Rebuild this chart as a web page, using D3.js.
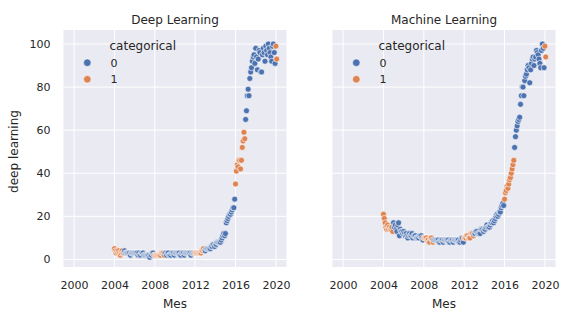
<!DOCTYPE html>
<html>
<head>
<meta charset="utf-8">
<script src="https://cdn.jsdelivr.net/npm/d3@7"></script>
<style>
  body { margin: 0; background: #fff; }
  text { font-family: "DejaVu Sans", sans-serif; fill: #262626; }
</style>
</head>
<body>
<svg id="chart" width="578" height="325"></svg>
<script>
// monthly google trends values, starting January 2004
const startYear = 2004;
// years whose months are flagged categorical = 1
const categoryYears = [2004, 2008, 2012, 2016, 2020];
const categories = ["0", "1"];
const xTicks = [2000, 2004, 2008, 2012, 2016, 2020];
const yTicks = [0, 20, 40, 60, 80, 100];

const deepLearning = [
    5, 4, 3, 4, 3, 4, 3, 2, 3, 4, 3, 3,
    4, 3, 3, 3, 3, 3, 3, 2, 3, 3, 3, 3,
    3, 3, 3, 3, 2, 3, 2, 2, 3, 3, 3, 2,
    2, 2, 2, 2, 2, 2, 1, 2, 2, 3, 3, 2,
    2, 2, 2, 2, 2, 2, 2, 2, 3, 3, 3, 2,
    3, 3, 2, 3, 3, 2, 2, 2, 3, 3, 3, 2,
    3, 3, 3, 3, 3, 3, 2, 2, 3, 3, 3, 2,
    3, 3, 3, 3, 3, 3, 3, 2, 3, 3, 3, 3,
    3, 3, 3, 3, 3, 3, 3, 3, 4, 4, 5, 4,
    4, 5, 5, 5, 5, 5, 5, 6, 6, 7, 7, 6,
    7, 7, 8, 8, 8, 8, 8, 9, 10, 11, 12, 11,
    12, 17, 18, 19, 20, 21, 21, 22, 23, 24, 24, 28,
    35, 41, 44, 43, 46, 46, 42, 46, 52, 55, 59, 56,
    65, 69, 76, 79, 76, 84, 87, 89, 92, 94, 95, 91,
    98, 94, 88, 93, 97, 96, 87, 87, 95, 98, 96, 92,
    99, 97, 95, 100, 98, 96, 94, 92, 99, 100, 96, 91,
    99, 93
];

const machineLearning = [
    21, 19, 17, 15, 14, 16, 14, 15, 14, 14, 15, 13,
    17, 15, 16, 14, 13, 16, 17, 11, 14, 13, 13, 12,
    13, 12, 11, 12, 11, 10, 11, 12, 11, 11, 12, 10,
    11, 11, 11, 10, 10, 10, 10, 11, 11, 11, 10, 9,
    10, 10, 10, 10, 9, 9, 8, 8, 10, 10, 9, 8,
    9, 9, 9, 9, 9, 9, 8, 8, 9, 9, 9, 8,
    9, 9, 9, 9, 9, 9, 8, 8, 9, 9, 9, 8,
    9, 9, 9, 9, 9, 9, 8, 8, 9, 10, 10, 8,
    10, 10, 10, 11, 11, 10, 10, 10, 12, 12, 12, 11,
    12, 12, 13, 13, 12, 12, 12, 12, 14, 14, 14, 13,
    14, 14, 15, 16, 15, 15, 15, 16, 17, 17, 18, 17,
    18, 19, 20, 21, 20, 21, 22, 22, 24, 25, 26, 25,
    28, 31, 32, 34, 33, 35, 37, 38, 40, 42, 44, 46,
    52, 57, 60, 62, 64, 65, 66, 72, 76, 80, 80, 76,
    83, 85, 86, 88, 90, 89, 82, 88, 91, 93, 94, 90,
    93, 94, 97, 96, 95, 93, 91, 89, 97, 100, 98, 89,
    99, 94
];

const svg = d3.select('#chart');

const plotTop = 30;
const height = 237;
const width = 223;

const colour = d3.scaleOrdinal()
    .domain(categories)
    .range(["#4C72B0", "#DD8452"]);

const yScale = d3.scaleLinear()
    .domain([-3.5, 106.5])
    .range([plotTop + height, plotTop]);

function toRows(values) {
    return values.map((v, i) => {
        const year = startYear + Math.floor(i / 12);
        return {
            t: startYear + i / 12,
            value: v,
            cat: categoryYears.includes(year) ? "1" : "0"
        };
    });
}

function drawPanel(left, title, values, showY) {
    const xScale = d3.scaleLinear()
        .domain([1998.95, 2021.05])
        .range([left, left + width]);

    const g = svg.append('g');

    g.append('rect')
        .attr('x', left)
        .attr('y', plotTop)
        .attr('width', width)
        .attr('height', height)
        .attr('fill', '#EAEAF2');

    // grid lines
    g.selectAll('.hgrid')
        .data(yTicks)
        .enter()
        .append('line')
        .attr('x1', left)
        .attr('x2', left + width)
        .attr('y1', d => yScale(d))
        .attr('y2', d => yScale(d))
        .attr('stroke', '#fff')
        .attr('stroke-width', 1);

    g.selectAll('.vgrid')
        .data(xTicks)
        .enter()
        .append('line')
        .attr('x1', d => xScale(d))
        .attr('x2', d => xScale(d))
        .attr('y1', plotTop)
        .attr('y2', plotTop + height)
        .attr('stroke', '#fff')
        .attr('stroke-width', 1);

    // x axis
    const xAxis = g.append('g')
        .attr('transform', `translate(0, ${plotTop + height})`)
        .call(d3.axisBottom(xScale).tickValues(xTicks).tickFormat(d3.format('d')).tickSize(0).tickPadding(14));
    xAxis.select('.domain').remove();
    xAxis.selectAll('text')
        .attr('font-size', 11)
        .attr('font-family', '"DejaVu Sans", sans-serif')
        .attr('fill', '#262626');

    if (showY) {
        const yAxis = g.append('g')
            .attr('transform', `translate(${left}, 0)`)
            .call(d3.axisLeft(yScale).tickValues(yTicks).tickSize(0).tickPadding(13));
        yAxis.select('.domain').remove();
        yAxis.selectAll('text')
            .attr('font-size', 11)
            .attr('font-family', '"DejaVu Sans", sans-serif')
            .attr('fill', '#262626');

        svg.append('text')
            .attr('transform', `translate(18, ${plotTop + height / 2 + 3}) rotate(-90)`)
            .attr('text-anchor', 'middle')
            .attr('font-size', 12)
            .text('deep learning');
    }

    // points
    g.selectAll('.dot')
        .data(toRows(values))
        .enter()
        .append('circle')
        .attr('cx', d => xScale(d.t))
        .attr('cy', d => yScale(d.value))
        .attr('r', 3)
        .attr('fill', d => colour(d.cat))
        .attr('stroke', '#fff')
        .attr('stroke-width', 0.6);

    // titles
    svg.append('text')
        .attr('x', left + width / 2)
        .attr('y', 24)
        .attr('text-anchor', 'middle')
        .attr('font-size', 12)
        .text(title);

    svg.append('text')
        .attr('x', left + width / 2)
        .attr('y', 308)
        .attr('text-anchor', 'middle')
        .attr('font-size', 12)
        .text('Mes');

    // legend
    const legend = g.append('g')
        .attr('transform', `translate(${left}, 0)`);

    legend.append('text')
        .attr('x', 46)
        .attr('y', 50)
        .attr('font-size', 12)
        .text('categorical');

    const items = legend.selectAll('.item')
        .data(categories)
        .enter()
        .append('g')
        .attr('transform', (d, i) => `translate(0, ${62.7 + i * 16.6})`);

    items.append('circle')
        .attr('cx', 23.8)
        .attr('cy', 0)
        .attr('r', 3.8)
        .attr('fill', d => colour(d))
        .attr('stroke', '#fff')
        .attr('stroke-width', 0.6);

    items.append('text')
        .attr('x', 47)
        .attr('y', 4)
        .attr('font-size', 11)
        .text(d => d);
}

drawPanel(63.5, 'Deep Learning', deepLearning, true);
drawPanel(332.5, 'Machine Learning', machineLearning, false);
</script>
</body>
</html>
